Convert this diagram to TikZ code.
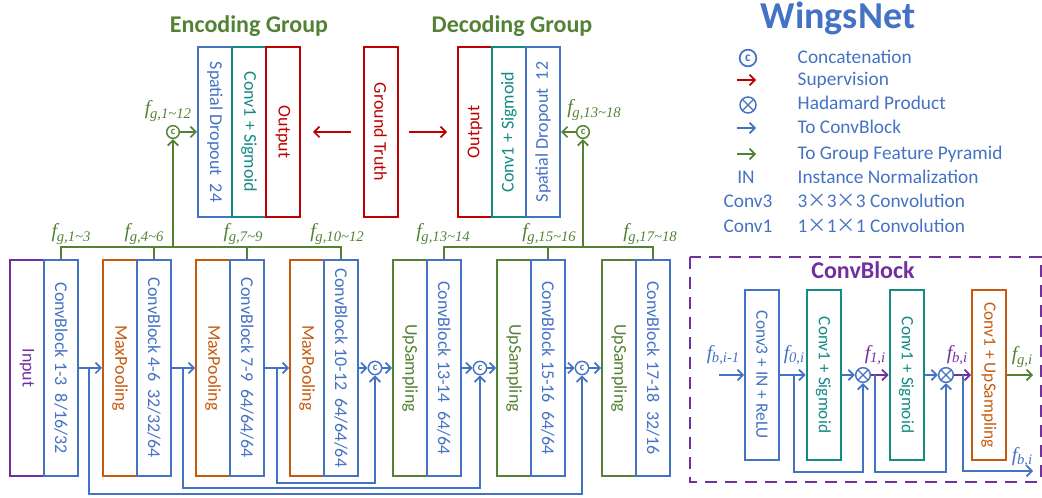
\documentclass[tikz,border=0pt]{standalone}
\usepackage{fontspec}
\setmainfont{Carlito}
\newfontfamily\tnr{Liberation Serif}
\newfontfamily\cjk{Noto Sans CJK SC}
\usetikzlibrary{arrows.meta}
\definecolor{cblue}{HTML}{4472C4}
\definecolor{cgreen}{HTML}{548235}
\definecolor{cred}{HTML}{C00000}
\definecolor{cteal}{HTML}{138A84}
\definecolor{corange}{HTML}{C55A11}
\definecolor{cpurple}{HTML}{7030A0}
\newcommand{\tld}{{\char"7E}}
\newcommand{\flab}[1]{{\tnr\itshape\fontsize{15}{15}\selectfont f\kern-0.3pt\raisebox{-0.4ex}{\fontsize{11}{11}\selectfont #1}}}
\tikzset{
  bx/.style={draw=#1, line width=1.5pt, minimum width=25.5pt, inner sep=0pt, text=#1, font=\fontsize{13.5}{13.5}\selectfont},
  tall/.style={minimum height=127.5pt},
  low/.style={minimum height=162pt},
  conn/.style={draw=#1, line width=1.3pt, -{Straight Barb[length=4pt,width=8pt,line width=1.3pt]}},
  wire/.style={draw=#1, line width=1.3pt},
  cc/.style={circle, draw=#1, line width=1.1pt, minimum size=9.5pt, inner sep=0pt, text=#1, font=\bfseries\fontsize{8}{8}\selectfont},
  hp/.style={circle, draw=cblue, fill=white, line width=1.1pt, minimum size=11pt, inner sep=0pt,
    path picture={\draw[cblue,line width=1pt] (path picture bounding box.north west)--(path picture bounding box.south east) (path picture bounding box.north east)--(path picture bounding box.south west);}},
  ttl/.style={text=#1, font=\bfseries\fontsize{18}{18}\selectfont, anchor=base},
  lg/.style={text=cblue, font=\fontsize{14.5}{14.5}\selectfont, anchor=base west},
  lgs/.style={text=cblue, font=\fontsize{14.5}{14.5}\selectfont, anchor=base}
}
\begin{document}
\begin{tikzpicture}[x=0.75pt,y=-0.75pt]
\useasboundingbox (0,0) rectangle (1042,498);

% titles
\node[ttl=cgreen] (tenc) at (249,33) {Encoding Group};
\node[ttl=cgreen] (tdec) at (512,33) {Decoding Group};
\node[text=cblue, font=\bfseries\fontsize{28.5}{28.5}\selectfont, anchor=base] (twn) at (838,29) {WingsNet};

% encoding / decoding groups
\node[bx=cblue, tall] (sd1) at (215,132) {\rotatebox{-90}{Spatial Dropout\ \ 24}};
\node[bx=cteal, tall] (cs1) at (249,132) {\rotatebox{-90}{Conv1 + Sigmoid}};
\node[bx=cred, tall] (out1) at (283,132) {\rotatebox{-90}{Output}};
\node[bx=cred, tall] (gt) at (380.5,132) {\rotatebox{-90}{Ground Truth}};
\node[bx=cred, tall] (out2) at (475,132) {\rotatebox{90}{Output}};
\node[bx=cteal, tall] (cs2) at (509,132) {\rotatebox{90}{Conv1 + Sigmoid}};
\node[bx=cblue, tall] (sd2) at (543,132) {\rotatebox{90}{Spatial Dropout\ \ 12}};
\draw[conn=cred, shorten <=9pt, shorten >=9pt] (gt) -- (out1);
\draw[conn=cred, shorten <=8pt, shorten >=7.5pt] (gt) -- (out2);

% concat nodes for groups
\node[cc=cgreen] (c1) at (173,132) {c};
\node[cc=cgreen] (c2) at (583,132) {c};
\draw[conn=cgreen] (c1) -- (sd1);
\draw[conn=cgreen] (c2) -- (sd2);
\node (l112) at (168,111) {\color{cgreen}\flab{g,1\tld12}};
\node (l1318) at (594,110) {\color{cgreen}\flab{g,13\tld18}};

% bottom row
\node[bx=cpurple, low] (inp) at (27,368) {\rotatebox{-90}{Input}};
\node[bx=cblue, low] (cb1) at (61,368) {\rotatebox{-90}{ConvBlock 1-3\ \ 8/16/32}};
\node[bx=corange, low] (mp1) at (120,368) {\rotatebox{-90}{MaxPooling}};
\node[bx=cblue, low] (cb2) at (154,368) {\rotatebox{-90}{ConvBlock 4-6\ \ 32/32/64}};
\node[bx=corange, low] (mp2) at (213,368) {\rotatebox{-90}{MaxPooling}};
\node[bx=cblue, low] (cb3) at (247,368) {\rotatebox{-90}{ConvBlock 7-9\ \ 64/64/64}};
\node[bx=corange, low] (mp3) at (307,368) {\rotatebox{-90}{MaxPooling}};
\node[bx=cblue, low] (cb4) at (341,368) {\rotatebox{-90}{ConvBlock 10-12\ \ 64/64/64}};
\node[bx=cgreen, low] (us1) at (410,368) {\rotatebox{-90}{UpSampling}};
\node[bx=cblue, low] (cb5) at (444,368) {\rotatebox{-90}{ConvBlock 13-14\ \ 64/64}};
\node[bx=cgreen, low] (us2) at (514,368) {\rotatebox{-90}{UpSampling}};
\node[bx=cblue, low] (cb6) at (548,368) {\rotatebox{-90}{ConvBlock 15-16\ \ 64/64}};
\node[bx=cgreen, low] (us3) at (619,368) {\rotatebox{-90}{UpSampling}};
\node[bx=cblue, low] (cb7) at (653,368) {\rotatebox{-90}{ConvBlock 17-18\ \ 32/16}};

\node[cc=cblue, minimum size=10pt] (cc1) at (375,368) {c};
\node[cc=cblue, minimum size=10pt] (cc2) at (480,368) {c};
\node[cc=cblue, minimum size=10pt] (cc3) at (582,368) {c};

\draw[conn=cblue] (cb1) -- (mp1);
\draw[conn=cblue] (cb2) -- (mp2);
\draw[conn=cblue] (cb3) -- (mp3);
\draw[conn=cblue] (cb4) -- (cc1);
\draw[conn=cblue] (cc1) -- (us1);
\draw[conn=cblue] (cb5) -- (cc2);
\draw[conn=cblue] (cc2) -- (us2);
\draw[conn=cblue] (cb6) -- (cc3);
\draw[conn=cblue] (cc3) -- (us3);

% skip connections
\coordinate (s1) at (89,368);
\coordinate (s2) at (183,368);
\coordinate (s3) at (277,368);
\draw[conn=cblue, line width=1.1pt] (s1) -- ++(0,126) -| (cc3);
\draw[conn=cblue, line width=1.1pt] (s2) -- ++(0,120) -| (cc2);
\draw[conn=cblue, line width=1.1pt] (s3) -- ++(0,115) -| (cc1);

% encoding bus
\coordinate (eb) at (173,247);
\draw[wire=cgreen] (cb1.north) -- (cb1.north |- eb) -- (cb4.north |- eb) -- (cb4.north);
\draw[wire=cgreen] (cb2.north) -- (cb2.north |- eb);
\draw[wire=cgreen] (cb3.north) -- (cb3.north |- eb);
\draw[conn=cgreen] (eb) -- (c1);
% decoding bus
\coordinate (db) at (583,247);
\draw[wire=cgreen] (cb5.north) -- (cb5.north |- db) -- (cb7.north |- db) -- (cb7.north);
\draw[wire=cgreen] (cb6.north) -- (cb6.north |- db);
\draw[conn=cgreen] (db) -- (c2);

\node (lb1) at (71,234) {\color{cgreen}\flab{g,1\tld3}};
\node (lb2) at (144,234) {\color{cgreen}\flab{g,4\tld6}};
\node (lb3) at (243,234) {\color{cgreen}\flab{g,7\tld9}};
\node (lb4) at (337,234) {\color{cgreen}\flab{g,10\tld12}};
\node (lb5) at (443,234) {\color{cgreen}\flab{g,13\tld14}};
\node (lb6) at (549,234) {\color{cgreen}\flab{g,15\tld16}};
\node (lb7) at (650,234) {\color{cgreen}\flab{g,17\tld18}};

% legend
\node[circle, draw=cblue, line width=1.3pt, minimum size=12.5pt, inner sep=0pt, text=cblue, font=\bfseries\fontsize{10}{10}\selectfont] (lgc) at (748,58) {c};
\node[lg] (lt1) at (793,64) {Concatenation};
\coordinate (la2) at (737,80); \coordinate (lb2a) at (756,80);
\draw[conn=cred, line width=1.1pt] (la2) -- (lb2a);
\node[lg] (lt2) at (793,86) {Supervision};
\node[hp, minimum size=12pt] (lgh) at (748,105) {};
\node[lg] (lt3) at (793,110) {Hadamard Product};
\coordinate (la4) at (737,128); \coordinate (lb4a) at (756,128);
\draw[conn=cblue, line width=1.1pt] (la4) -- (lb4a);
\node[lg] (lt4) at (793,134) {To ConvBlock};
\coordinate (la5) at (737,154); \coordinate (lb5a) at (756,154);
\draw[conn=cgreen, line width=1.1pt] (la5) -- (lb5a);
\node[lg] (lt5) at (793,160) {To Group Feature Pyramid};
\node[lgs] (ls6) at (746,184) {IN};
\node[lg] (lt6) at (793,184) {Instance Normalization};
\node[lgs] (ls7) at (748,208) {Conv3};
\node[lg] (lt7) at (793,208) {3{\cjk ×}3{\cjk ×}3 Convolution};
\node[lgs] (ls8) at (748,233) {Conv1};
\node[lg] (lt8) at (793,233) {1{\cjk ×}1{\cjk ×}1 Convolution};

% ConvBlock panel
\draw[cpurple, line width=1.5pt, dash pattern=on 9pt off 6pt] (690,257) rectangle (1040.5,482);
\node[ttl=cpurple] (tcb) at (863,279) {ConvBlock};
\node[bx=cblue, tall, font=\fontsize{13}{13}\selectfont] (cv3) at (762,375) {\rotatebox{-90}{Conv3 + IN + ReLU}};
\node[bx=cteal, tall, font=\fontsize{13}{13}\selectfont] (sg1) at (823.5,375) {\rotatebox{-90}{Conv1 + Sigmoid}};
\node[bx=cteal, tall, font=\fontsize{13}{13}\selectfont] (sg2) at (906.5,375) {\rotatebox{-90}{Conv1 + Sigmoid}};
\node[bx=corange, tall, font=\fontsize{13}{13}\selectfont] (ups) at (989,375) {\rotatebox{-90}{Conv1 + UpSampling}};
\node[hp] (h1) at (863,375) {};
\node[hp] (h2) at (946,375) {};
\coordinate (fin) at (719,375);
\coordinate (br1) at (794,375);
\coordinate (br2) at (875,375);
\coordinate (br3) at (963,375);
\coordinate (fbo) at (1033,471);
\coordinate (fgo) at (1033,375);
\draw[conn=cblue] (fin) -- (cv3);
\draw[conn=cblue] (cv3) -- (sg1);
\draw[conn=cblue] (br1) -- ++(0,97) -| (h1);
\draw[conn=cblue] (sg1) -- (h1);
\draw[conn=cpurple] (h1) -- (sg2);
\draw[conn=cblue] (br2) -- ++(0,97) -| (h2);
\draw[conn=cblue] (sg2) -- (h2);
\draw[conn=cpurple] (h2) -- (ups);
\draw[conn=cblue] (br3) |- (fbo);
\draw[conn=cgreen] (ups) -- (fgo);
\node (lfi) at (723,355) {\color{cblue}\flab{b,i-1}};
\node (lf0) at (794,355) {\color{cblue}\flab{0,i}};
\node (lf1) at (875,355) {\color{cpurple}\flab{1,i}};
\node (lfb) at (957,355) {\color{cpurple}\flab{b,i}};
\node (lfg) at (1022,357) {\color{cgreen}\flab{g,i}};
\node (lfb2) at (1022,457) {\color{cblue}\flab{b,i}};
\end{tikzpicture}
\end{document}
